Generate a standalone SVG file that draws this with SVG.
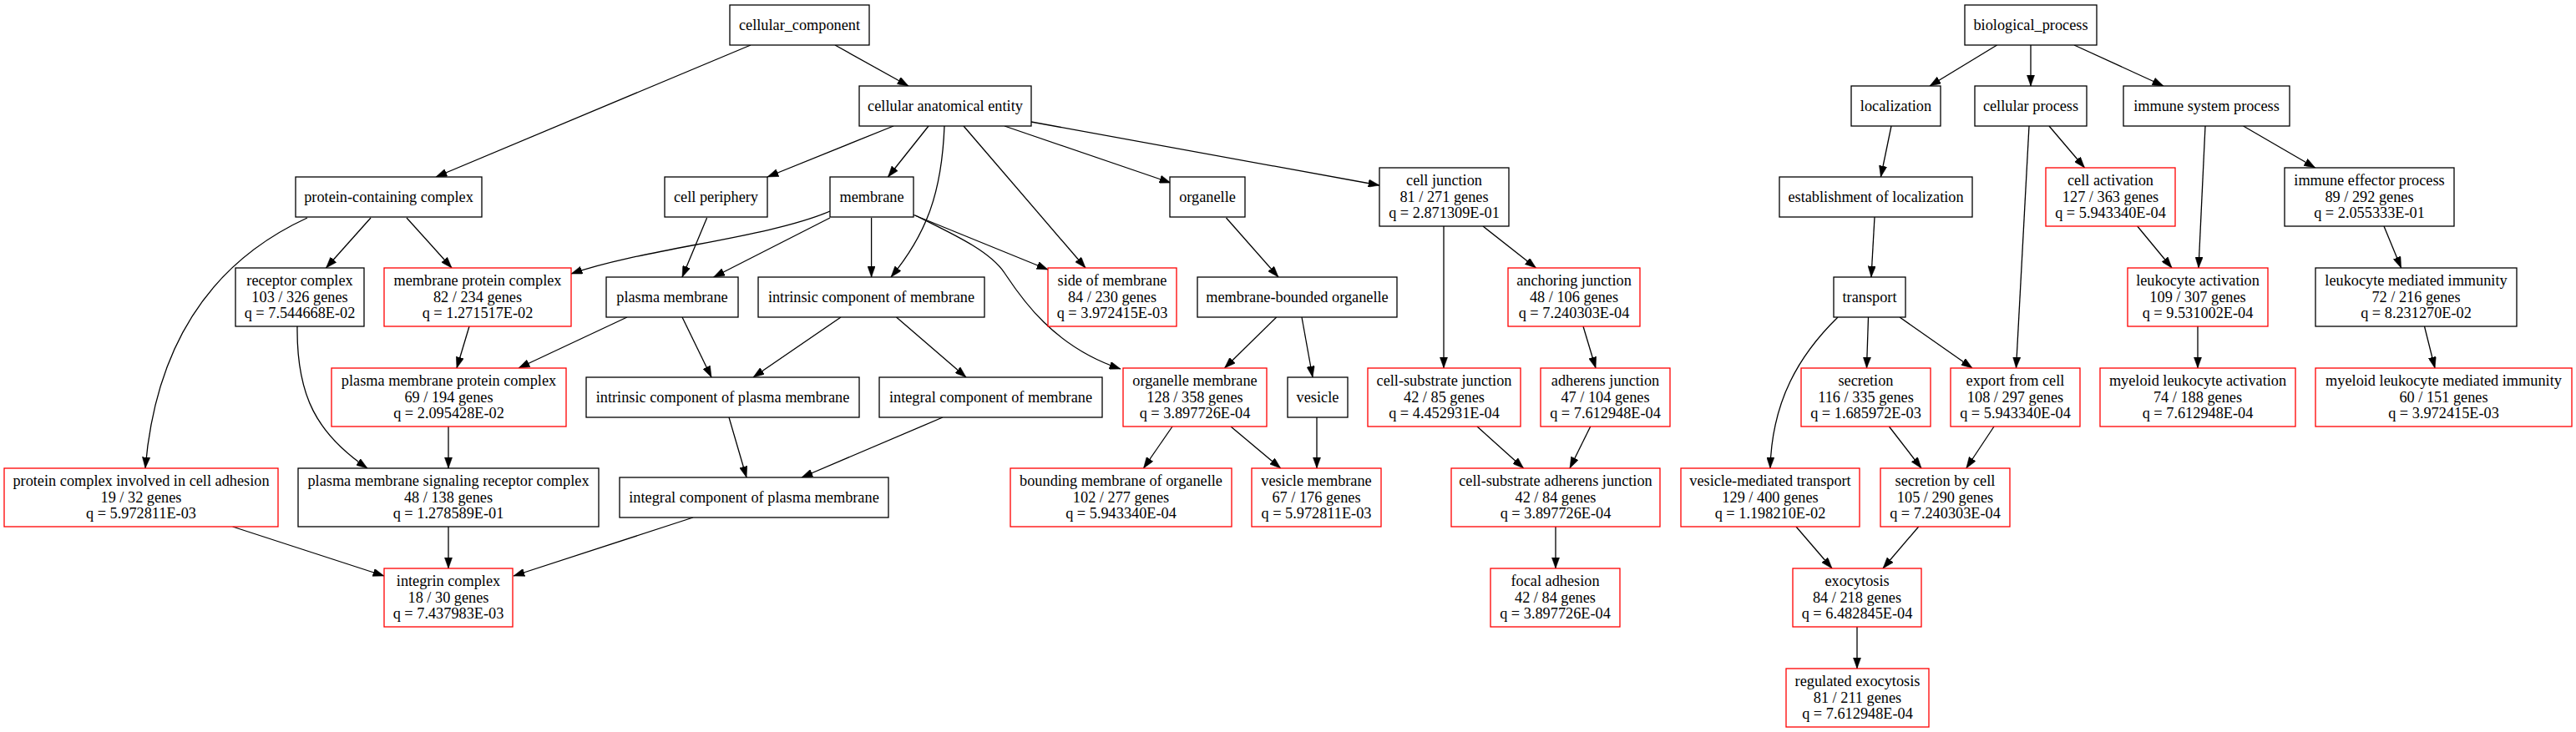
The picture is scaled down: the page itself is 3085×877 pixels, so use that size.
<svg xmlns="http://www.w3.org/2000/svg" width="3085" height="877" viewBox="0 0 3085 877">
<style>
rect{fill:#fff;stroke-width:1.3}
.k{stroke:#000}
.r{stroke:#ff0000}
text{font-family:"Liberation Serif","Times New Roman",serif;font-size:18.3px;fill:#000;text-anchor:middle}
.e path{fill:none;stroke:#000;stroke-width:1.3;marker-end:url(#ah)}
</style>
<defs>
<marker id="ah" viewBox="0 0 13.3 9.4" refX="13.3" refY="4.7" markerWidth="13.3" markerHeight="9.4" markerUnits="userSpaceOnUse" orient="auto">
<path d="M0,0 L13.3,4.7 L0,9.4 z" fill="#000" stroke="#000" stroke-width="0.5"/>
</marker>
</defs>
<rect x="0" y="0" width="3085" height="877" style="fill:#fff;stroke:none"/>
<g class="e" id="edges">
<path d="M899,54 L522,212"/>
<path d="M1000,54 L1088,103"/>
<path d="M1070,151 L919,212"/>
<path d="M1112,151 L1063.5,212"/>
<path d="M1131,151 C1128,230 1110,280 1067,332"/>
<path d="M1154,151 L1300,321"/>
<path d="M1203,151 L1402,219"/>
<path d="M1235,146 L1652,222"/>
<path d="M444,261 L390.5,321"/>
<path d="M487,261 L541,321"/>
<path d="M368,261 C240,320 185,430 174,561"/>
<path d="M356,391 C355,475 380,520 440,561"/>
<path d="M562,391 L547,441"/>
<path d="M994,253 C920,285 770,298 684,328"/>
<path d="M994,261 L854.6,332"/>
<path d="M846.6,261 L817,332"/>
<path d="M1043.6,261 L1043.6,332"/>
<path d="M1093,257 L1255,323"/>
<path d="M1096,258 C1140,280 1185,300 1203,327 C1221,354 1260,415 1342,442"/>
<path d="M1468.5,261 L1531,332"/>
<path d="M751,380 L621,441"/>
<path d="M817,380 L852,452"/>
<path d="M1007,380 L902,452"/>
<path d="M1073.5,380 L1157,452"/>
<path d="M1528.7,380 L1466.5,441"/>
<path d="M1559,380 L1572,452"/>
<path d="M873,500 L894,572"/>
<path d="M1129,500 L960,572"/>
<path d="M537,511 L537,561"/>
<path d="M278.6,631 L460,690"/>
<path d="M537,631 L537,681"/>
<path d="M830,620 L615,690"/>
<path d="M1404,511 L1369.5,561"/>
<path d="M1474,511 L1533.7,561"/>
<path d="M1577,500 L1577,561"/>
<path d="M1729,271 L1729,441"/>
<path d="M1776,271 L1839.5,321"/>
<path d="M1896,391 L1911,441"/>
<path d="M1769,511 L1824.6,561"/>
<path d="M1904.7,511 L1880,561"/>
<path d="M1863,631 L1863,681"/>
<path d="M2391.6,54 L2311,103"/>
<path d="M2432,54 L2432,103"/>
<path d="M2484,54 L2591,103"/>
<path d="M2265,151 L2252.4,212"/>
<path d="M2245,260 L2241,332"/>
<path d="M2201,380 C2155,425 2122,480 2120,561"/>
<path d="M2237.5,380 L2235.5,441"/>
<path d="M2275,380 L2362,441"/>
<path d="M2430,151 L2414.5,441"/>
<path d="M2454,151 L2496.5,201"/>
<path d="M2641,151 L2633,321"/>
<path d="M2686.6,151 L2772.7,201"/>
<path d="M2559.7,271 L2601,321"/>
<path d="M2855,271 L2875.6,321"/>
<path d="M2632,391 L2632,441"/>
<path d="M2903.5,391 L2916,441"/>
<path d="M2262.4,511 L2301,561"/>
<path d="M2388,511 L2354.8,561"/>
<path d="M2151,631 L2194,681"/>
<path d="M2297.7,631 L2255,681"/>
<path d="M2224,751 L2224,801"/>
</g>
<g id="n_cellular_component"><rect class="k" x="874" y="6" width="167" height="48"/><text x="957.5" y="35.5">cellular_component</text></g>
<g id="n_biological_process"><rect class="k" x="2353" y="6" width="158" height="48"/><text x="2432" y="35.5">biological_process</text></g>
<g id="n_cae"><rect class="k" x="1029" y="103" width="206" height="48"/><text x="1132" y="132.5">cellular anatomical entity</text></g>
<g id="n_localization"><rect class="k" x="2217" y="103" width="107" height="48"/><text x="2270.5" y="132.5">localization</text></g>
<g id="n_cellular_process"><rect class="k" x="2365" y="103" width="134" height="48"/><text x="2432" y="132.5">cellular process</text></g>
<g id="n_immune_system_process"><rect class="k" x="2543" y="103" width="199" height="48"/><text x="2642.5" y="132.5">immune system process</text></g>
<g id="n_protein_containing_complex"><rect class="k" x="354" y="212" width="223" height="48"/><text x="465.5" y="241.5">protein-containing complex</text></g>
<g id="n_cell_periphery"><rect class="k" x="796" y="212" width="123" height="48"/><text x="857.5" y="241.5">cell periphery</text></g>
<g id="n_membrane"><rect class="k" x="994" y="212" width="100" height="48"/><text x="1044" y="241.5">membrane</text></g>
<g id="n_organelle"><rect class="k" x="1401" y="212" width="90" height="48"/><text x="1446" y="241.5">organelle</text></g>
<g id="n_cell_junction"><rect class="k" x="1652" y="201" width="155" height="70"/><text x="1729.5" y="221.8"><tspan x="1729.5">cell junction</tspan><tspan x="1729.5" dy="19.7">81 / 271 genes</tspan><tspan x="1729.5" dy="19.7">q = 2.871309E-01</tspan></text></g>
<g id="n_establishment_of_localization"><rect class="k" x="2131" y="212" width="231" height="48"/><text x="2246.5" y="241.5">establishment of localization</text></g>
<g id="n_cell_activation"><rect class="r" x="2450" y="201" width="155" height="70"/><text x="2527.5" y="221.8"><tspan x="2527.5">cell activation</tspan><tspan x="2527.5" dy="19.7">127 / 363 genes</tspan><tspan x="2527.5" dy="19.7">q = 5.943340E-04</tspan></text></g>
<g id="n_immune_effector_process"><rect class="k" x="2736" y="201" width="203" height="70"/><text x="2837.5" y="221.8"><tspan x="2837.5">immune effector process</tspan><tspan x="2837.5" dy="19.7">89 / 292 genes</tspan><tspan x="2837.5" dy="19.7">q = 2.055333E-01</tspan></text></g>
<g id="n_receptor_complex"><rect class="k" x="282" y="321" width="154" height="70"/><text x="359" y="341.8"><tspan x="359">receptor complex</tspan><tspan x="359" dy="19.7">103 / 326 genes</tspan><tspan x="359" dy="19.7">q = 7.544668E-02</tspan></text></g>
<g id="n_membrane_protein_complex"><rect class="r" x="460" y="321" width="224" height="70"/><text x="572" y="341.8"><tspan x="572">membrane protein complex</tspan><tspan x="572" dy="19.7">82 / 234 genes</tspan><tspan x="572" dy="19.7">q = 1.271517E-02</tspan></text></g>
<g id="n_plasma_membrane"><rect class="k" x="726" y="332" width="158" height="48"/><text x="805" y="361.5">plasma membrane</text></g>
<g id="n_intrinsic_component_of_membrane"><rect class="k" x="908" y="332" width="271" height="48"/><text x="1043.5" y="361.5">intrinsic component of membrane</text></g>
<g id="n_side_of_membrane"><rect class="r" x="1255" y="321" width="154" height="70"/><text x="1332" y="341.8"><tspan x="1332">side of membrane</tspan><tspan x="1332" dy="19.7">84 / 230 genes</tspan><tspan x="1332" dy="19.7">q = 3.972415E-03</tspan></text></g>
<g id="n_membrane_bounded_organelle"><rect class="k" x="1434" y="332" width="239" height="48"/><text x="1553.5" y="361.5">membrane-bounded organelle</text></g>
<g id="n_anchoring_junction"><rect class="r" x="1806" y="321" width="158" height="70"/><text x="1885" y="341.8"><tspan x="1885">anchoring junction</tspan><tspan x="1885" dy="19.7">48 / 106 genes</tspan><tspan x="1885" dy="19.7">q = 7.240303E-04</tspan></text></g>
<g id="n_transport"><rect class="k" x="2196" y="332" width="86" height="48"/><text x="2239" y="361.5">transport</text></g>
<g id="n_leukocyte_activation"><rect class="r" x="2548" y="321" width="168" height="70"/><text x="2632" y="341.8"><tspan x="2632">leukocyte activation</tspan><tspan x="2632" dy="19.7">109 / 307 genes</tspan><tspan x="2632" dy="19.7">q = 9.531002E-04</tspan></text></g>
<g id="n_leukocyte_mediated_immunity"><rect class="k" x="2773" y="321" width="241" height="70"/><text x="2893.5" y="341.8"><tspan x="2893.5">leukocyte mediated immunity</tspan><tspan x="2893.5" dy="19.7">72 / 216 genes</tspan><tspan x="2893.5" dy="19.7">q = 8.231270E-02</tspan></text></g>
<g id="n_plasma_membrane_protein_complex"><rect class="r" x="397" y="441" width="281" height="70"/><text x="537.5" y="461.8"><tspan x="537.5">plasma membrane protein complex</tspan><tspan x="537.5" dy="19.7">69 / 194 genes</tspan><tspan x="537.5" dy="19.7">q = 2.095428E-02</tspan></text></g>
<g id="n_intrinsic_component_of_plasma_membrane"><rect class="k" x="702" y="452" width="327" height="48"/><text x="865.5" y="481.5">intrinsic component of plasma membrane</text></g>
<g id="n_integral_component_of_membrane"><rect class="k" x="1053" y="452" width="267" height="48"/><text x="1186.5" y="481.5">integral component of membrane</text></g>
<g id="n_organelle_membrane"><rect class="r" x="1345" y="441" width="172" height="70"/><text x="1431" y="461.8"><tspan x="1431">organelle membrane</tspan><tspan x="1431" dy="19.7">128 / 358 genes</tspan><tspan x="1431" dy="19.7">q = 3.897726E-04</tspan></text></g>
<g id="n_vesicle"><rect class="k" x="1542" y="452" width="72" height="48"/><text x="1578" y="481.5">vesicle</text></g>
<g id="n_cell_substrate_junction"><rect class="r" x="1638" y="441" width="183" height="70"/><text x="1729.5" y="461.8"><tspan x="1729.5">cell-substrate junction</tspan><tspan x="1729.5" dy="19.7">42 / 85 genes</tspan><tspan x="1729.5" dy="19.7">q = 4.452931E-04</tspan></text></g>
<g id="n_adherens_junction"><rect class="r" x="1845" y="441" width="155" height="70"/><text x="1922.5" y="461.8"><tspan x="1922.5">adherens junction</tspan><tspan x="1922.5" dy="19.7">47 / 104 genes</tspan><tspan x="1922.5" dy="19.7">q = 7.612948E-04</tspan></text></g>
<g id="n_secretion"><rect class="r" x="2157" y="441" width="155" height="70"/><text x="2234.5" y="461.8"><tspan x="2234.5">secretion</tspan><tspan x="2234.5" dy="19.7">116 / 335 genes</tspan><tspan x="2234.5" dy="19.7">q = 1.685972E-03</tspan></text></g>
<g id="n_export_from_cell"><rect class="r" x="2336" y="441" width="155" height="70"/><text x="2413.5" y="461.8"><tspan x="2413.5">export from cell</tspan><tspan x="2413.5" dy="19.7">108 / 297 genes</tspan><tspan x="2413.5" dy="19.7">q = 5.943340E-04</tspan></text></g>
<g id="n_myeloid_leukocyte_activation"><rect class="r" x="2515" y="441" width="234" height="70"/><text x="2632" y="461.8"><tspan x="2632">myeloid leukocyte activation</tspan><tspan x="2632" dy="19.7">74 / 188 genes</tspan><tspan x="2632" dy="19.7">q = 7.612948E-04</tspan></text></g>
<g id="n_myeloid_leukocyte_mediated_immunity"><rect class="r" x="2773" y="441" width="307" height="70"/><text x="2926.5" y="461.8"><tspan x="2926.5">myeloid leukocyte mediated immunity</tspan><tspan x="2926.5" dy="19.7">60 / 151 genes</tspan><tspan x="2926.5" dy="19.7">q = 3.972415E-03</tspan></text></g>
<g id="n_protein_complex_cell_adhesion"><rect class="r" x="5" y="561" width="328" height="70"/><text x="169" y="581.8"><tspan x="169">protein complex involved in cell adhesion</tspan><tspan x="169" dy="19.7">19 / 32 genes</tspan><tspan x="169" dy="19.7">q = 5.972811E-03</tspan></text></g>
<g id="n_pm_signaling_receptor_complex"><rect class="k" x="357" y="561" width="360" height="70"/><text x="537" y="581.8"><tspan x="537">plasma membrane signaling receptor complex</tspan><tspan x="537" dy="19.7">48 / 138 genes</tspan><tspan x="537" dy="19.7">q = 1.278589E-01</tspan></text></g>
<g id="n_integral_component_of_plasma_membrane"><rect class="k" x="742" y="572" width="322" height="48"/><text x="903" y="601.5">integral component of plasma membrane</text></g>
<g id="n_bounding_membrane_of_organelle"><rect class="r" x="1210" y="561" width="265" height="70"/><text x="1342.5" y="581.8"><tspan x="1342.5">bounding membrane of organelle</tspan><tspan x="1342.5" dy="19.7">102 / 277 genes</tspan><tspan x="1342.5" dy="19.7">q = 5.943340E-04</tspan></text></g>
<g id="n_vesicle_membrane"><rect class="r" x="1499" y="561" width="155" height="70"/><text x="1576.5" y="581.8"><tspan x="1576.5">vesicle membrane</tspan><tspan x="1576.5" dy="19.7">67 / 176 genes</tspan><tspan x="1576.5" dy="19.7">q = 5.972811E-03</tspan></text></g>
<g id="n_cell_substrate_adherens_junction"><rect class="r" x="1738" y="561" width="250" height="70"/><text x="1863" y="581.8"><tspan x="1863">cell-substrate adherens junction</tspan><tspan x="1863" dy="19.7">42 / 84 genes</tspan><tspan x="1863" dy="19.7">q = 3.897726E-04</tspan></text></g>
<g id="n_vesicle_mediated_transport"><rect class="r" x="2013" y="561" width="214" height="70"/><text x="2120" y="581.8"><tspan x="2120">vesicle-mediated transport</tspan><tspan x="2120" dy="19.7">129 / 400 genes</tspan><tspan x="2120" dy="19.7">q = 1.198210E-02</tspan></text></g>
<g id="n_secretion_by_cell"><rect class="r" x="2252" y="561" width="155" height="70"/><text x="2329.5" y="581.8"><tspan x="2329.5">secretion by cell</tspan><tspan x="2329.5" dy="19.7">105 / 290 genes</tspan><tspan x="2329.5" dy="19.7">q = 7.240303E-04</tspan></text></g>
<g id="n_integrin_complex"><rect class="r" x="460" y="681" width="154" height="70"/><text x="537" y="701.8"><tspan x="537">integrin complex</tspan><tspan x="537" dy="19.7">18 / 30 genes</tspan><tspan x="537" dy="19.7">q = 7.437983E-03</tspan></text></g>
<g id="n_focal_adhesion"><rect class="r" x="1785" y="681" width="155" height="70"/><text x="1862.5" y="701.8"><tspan x="1862.5">focal adhesion</tspan><tspan x="1862.5" dy="19.7">42 / 84 genes</tspan><tspan x="1862.5" dy="19.7">q = 3.897726E-04</tspan></text></g>
<g id="n_exocytosis"><rect class="r" x="2147" y="681" width="154" height="70"/><text x="2224" y="701.8"><tspan x="2224">exocytosis</tspan><tspan x="2224" dy="19.7">84 / 218 genes</tspan><tspan x="2224" dy="19.7">q = 6.482845E-04</tspan></text></g>
<g id="n_regulated_exocytosis"><rect class="r" x="2139" y="801" width="171" height="70"/><text x="2224.5" y="821.8"><tspan x="2224.5">regulated exocytosis</tspan><tspan x="2224.5" dy="19.7">81 / 211 genes</tspan><tspan x="2224.5" dy="19.7">q = 7.612948E-04</tspan></text></g>
</svg>
